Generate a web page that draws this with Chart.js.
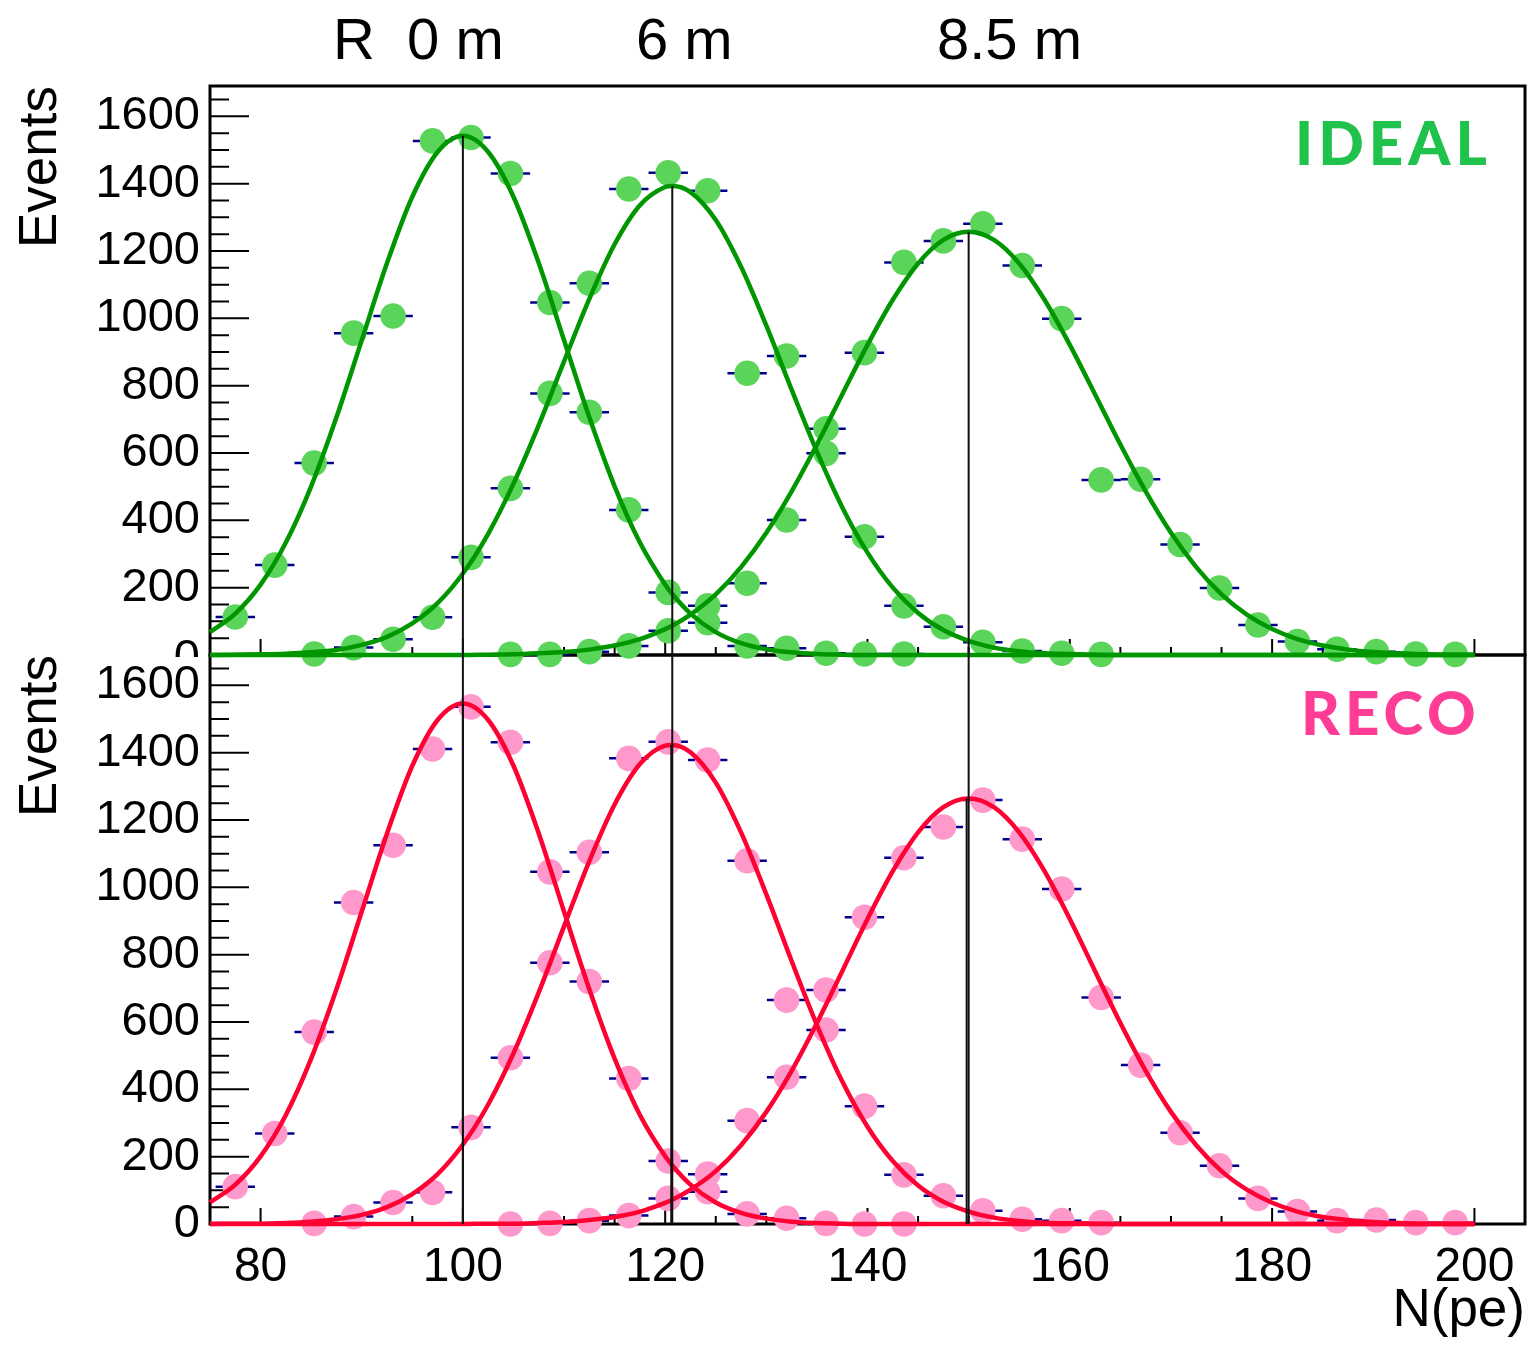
<!DOCTYPE html>
<html>
<head>
<meta charset="utf-8">
<script src="https://cdn.jsdelivr.net/npm/chart.js@4.4.0/dist/chart.umd.min.js"></script>
<style>
  html, body { margin: 0; padding: 0; background: #fff; }
  #wrap { position: relative; width: 1532px; height: 1345px; }
  canvas { position: absolute; left: 0; top: 0; }
  .lbl { position: absolute; font-family: "Liberation Sans", Arial, sans-serif; color: #000; white-space: pre; line-height: 1; }
  .tag { position: absolute; font-family: Lato, sans-serif; font-weight: 900; line-height: 1; white-space: pre; }
</style>
</head>
<body>
<div id="wrap">
  <canvas id="myChart" width="1532" height="1345"></canvas>
  <div class="lbl" style="left:333px; top:10px; font-size:58px">R  0 m</div>
  <div class="lbl" style="left:636px; top:10px; font-size:58px">6 m</div>
  <div class="lbl" style="left:937px; top:10px; font-size:58px">8.5 m</div>
  <div class="lbl" style="left:150px; top:632px; width:50px; height:25px; overflow:hidden; font-size:47px; text-align:right">0</div>
  <div class="tag" style="left:1295px; top:112px; font-size:60px; letter-spacing:5px; color:#1fc24a">IDEAL</div>
  <div class="tag" style="left:1301px; top:682px; font-size:60px; letter-spacing:5px; color:#ff3d96">RECO</div>
</div>
<script>
// bin centres, N(pe)
var binCenters = [77.5, 81.4, 85.3, 89.2, 93.1, 97.0, 100.8, 104.7, 108.6, 112.5, 116.4, 120.3, 124.2, 128.1, 132.0, 135.9,
  139.7, 143.6, 147.5, 151.4, 155.3, 159.2, 163.1, 167.0, 170.9, 174.8, 178.6, 182.5, 186.4, 190.3, 194.2, 198.1];

// IDEAL events per bin (R = 0 m, 6 m, 8.5 m)
var ideal0 = [113, 267, 570, 956, 1007, 1527, 1537, 1430, 1047, 721, 431, 186, 96, 27, 20, 5, 3, 3,
  null, null, null, null, null, null, null, null, null, null, null, null, null, null];
var ideal6 = [null, null, 3, 22, 47, 112, 290, 495, 777, 1104, 1384, 1432, 1379, 837, 888, 599, 351, 146, 84, 38, 12, 5, 2,
  null, null, null, null, null, null, null, null, null];
var ideal85 = [null, null, null, null, null, null, null, 2, 2, 10, 27, 72, 146, 213, 401, 672, 898, 1166, 1230, 1281,
  1157, 999, 520, 522, 328, 199, 89, 40, 17, 10, 3, 2];

// RECO events per bin
var reco0 = [111, 269, 570, 955, 1125, 1411, 1536, 1431, 1046, 720, 432, 187, 96, 30, 17, 2, 0, 0,
  null, null, null, null, null, null, null, null, null, null, null, null, null, null];
var reco6 = [null, null, 2, 22, 64, 94, 287, 494, 776, 1104, 1383, 1432, 1378, 1079, 665, 576, 350, 146, 84, 39, 14, 10, 4,
  null, null, null, null, null, null, null, null, null];
var reco85 = [null, null, null, null, null, null, null, 0, 2, 10, 25, 76, 148, 307, 436, 695, 911, 1088, 1179, 1259,
  1143, 995, 673, 472, 271, 173, 76, 37, 10, 12, 4, 4];

// fitted curves
var fitX = [75, 77.5, 80, 82.5, 85, 87.5, 90, 92.5, 95, 97.5, 100, 102.5, 105, 107.5, 110, 112.5, 115, 117.5, 120, 120.7,
  122.5, 125, 127.5, 130, 132.5, 135, 137.5, 140, 142.5, 145, 147.5, 150, 152.5, 155, 157.5, 160, 162.5, 165, 167.5, 170,
  172.5, 175, 177.5, 180, 182.5, 185, 187.5, 190, 192.5, 195, 197.5, 200];
var idealFit0 = [68, 123, 209, 334, 501, 706, 935, 1164, 1361, 1494, 1542, 1494, 1361, 1164, 935, 706, 501, 334, 209, 181,
  123, 68, 35, 17, 8, 3, 1, 0, 0, 0, 0, 0, 0, 0, 0, 0, 0, 0, 0, 0, 0, 0, 0, 0, 0, 0, 0, 0, 0, 0, 0, 0];
var idealFit6 = [0, 1, 2, 4, 8, 15, 30, 54, 94, 154, 242, 360, 509, 683, 872, 1058, 1220, 1336, 1390, 1393,
  1375, 1292, 1153, 978, 788, 604, 439, 304, 200, 125, 74, 42, 22, 11, 5, 3, 1, 0, 0, 0, 0, 0, 0, 0, 0, 0, 0, 0, 0, 0, 0, 0];
var idealFit85 = [0, 0, 0, 0, 0, 0, 0, 0, 0, 0, 0, 1, 2, 5, 9, 16, 28, 47, 77, 87,
  120, 180, 261, 363, 486, 625, 774, 921, 1055, 1163, 1233, 1257, 1233, 1163, 1055, 921, 774, 625, 486, 363,
  261, 180, 120, 77, 47, 28, 16, 9, 5, 2, 1, 1];
var recoFit0 = [64, 117, 201, 324, 491, 697, 928, 1160, 1361, 1497, 1546, 1497, 1361, 1160, 928, 697, 491, 324, 201, 174,
  117, 64, 33, 16, 7, 3, 1, 0, 0, 0, 0, 0, 0, 0, 0, 0, 0, 0, 0, 0, 0, 0, 0, 0, 0, 0, 0, 0, 0, 0, 0, 0];
var recoFit6 = [0, 1, 1, 3, 7, 14, 27, 50, 89, 148, 236, 355, 507, 688, 884, 1078, 1246, 1366, 1421, 1423,
  1401, 1311, 1163, 979, 781, 591, 424, 289, 187, 114, 66, 37, 19, 9, 4, 2, 1, 0, 0, 0, 0, 0, 0, 0, 0, 0, 0, 0, 0, 0, 0, 0];
var recoFit85 = [0, 0, 0, 0, 0, 0, 0, 0, 0, 0, 0, 1, 1, 3, 6, 12, 21, 37, 63, 72,
  102, 157, 234, 333, 455, 597, 751, 906, 1048, 1163, 1238, 1264, 1238, 1163, 1048, 906, 751, 597, 455, 333,
  234, 157, 102, 63, 37, 21, 12, 6, 3, 1, 1, 0];

// fitted peak positions (vertical markers)
var idealPeakX = [100, 120.7, 150];
var idealPeakY = [1542, 1393, 1257];
var recoPeakX = [100, 120.6, 149.8];
var recoPeakY = [1546, 1423, 1264];

var xTicks = [80, 100, 120, 140, 160, 180, 200];
var yTicks = [0, 200, 400, 600, 800, 1000, 1200, 1400, 1600];
var yMax = 1690;

var FONT = 'Liberation Sans';

function points(xs, ys) {
  return xs.map(function (x, i) { return { x: x, y: ys[i] }; }).filter(function (p) { return p.y !== null; });
}

function panelSets(axis, series, fits, peakX, peakY, dotColor, lineColor) {
  var sets = [];
  series.forEach(function (s) {
    sets.push({ yAxisID: axis, data: points(binCenters, s), pointStyle: 'line', pointRadius: 19.7,
      pointBorderWidth: 2.5, pointBorderColor: '#00008b', order: 4, clip: false });
    sets.push({ yAxisID: axis, data: points(binCenters, s), pointStyle: 'circle', pointRadius: 12.8,
      pointBackgroundColor: dotColor, pointBorderWidth: 0, order: 3, clip: false });
  });
  fits.forEach(function (f) {
    sets.push({ yAxisID: axis, data: points(fitX, f), showLine: true, borderColor: lineColor, borderWidth: 4.5,
      pointRadius: 0, cubicInterpolationMode: 'monotone', order: 2, clip: false });
  });
  peakX.forEach(function (x, i) {
    sets.push({ yAxisID: axis, data: [{ x: x, y: peakY[i] }, { x: x, y: 0 }], showLine: true,
      borderColor: '#111', borderWidth: 2, pointRadius: 0, order: 1, clip: false });
  });
  return sets;
}

var datasets = panelSets('yTop', [ideal0, ideal6, ideal85], [idealFit0, idealFit6, idealFit85],
  idealPeakX, idealPeakY, '#5ad55a', '#009600')
  .concat(panelSets('yBot', [reco0, reco6, reco85], [recoFit0, recoFit6, recoFit85],
    recoPeakX, recoPeakY, '#ff99cc', '#ff0033'));
// markers of the IDEAL peaks carried down through the RECO panel
idealPeakX.forEach(function (x) {
  datasets.push({ yAxisID: 'yBot', data: [{ x: x, y: yMax }, { x: x, y: 0 }], showLine: true,
    borderColor: '#111', borderWidth: 2, pointRadius: 0, order: 1, clip: false });
});

// frame and inward ticks, ROOT style
var frame = {
  id: 'frame',
  beforeDatasetsDraw: function (chart) {
    var ctx = chart.ctx, a = chart.chartArea, xs = chart.scales.x;
    ctx.save();
    ctx.strokeStyle = '#000';
    ['yTop', 'yBot'].forEach(function (id) {
      var ys = chart.scales[id];
      ctx.lineWidth = 3;
      ctx.strokeRect(a.left, ys.top, a.right - a.left, ys.bottom - ys.top);
      ctx.lineWidth = 2;
      ctx.beginPath();
      for (var v = 50; v < yMax; v += 50) {
        var py = ys.getPixelForValue(v);
        var len = v % 200 === 0 ? 39 : 19;
        ctx.moveTo(a.left, py);
        ctx.lineTo(a.left + len, py);
      }
      for (var t = 80; t <= 200; t += 5) {
        var px = xs.getPixelForValue(t);
        var l = t % 20 === 0 ? 16 : 8;
        ctx.moveTo(px, ys.bottom);
        ctx.lineTo(px, ys.bottom - l);
      }
      ctx.stroke();
    });
    ctx.restore();
  }
};

function yAxis(ticks) {
  return {
    type: 'linear', position: 'left', stack: 'panels', stackWeight: 1, min: 0, max: yMax,
    grid: { display: false, drawTicks: false }, border: { display: false },
    afterBuildTicks: function (s) { s.ticks = ticks.map(function (v) { return { value: v }; }); },
    afterFit: function (s) { s.width = 210; },
    ticks: { font: { family: FONT, size: 47 }, color: '#000', padding: 10, autoSkip: false,
      callback: function (v) { return String(v); } },
    title: { display: true, text: 'Events', align: 'end', color: '#000',
      font: { family: FONT, size: 53 }, padding: { top: 10, bottom: 0 } }
  };
}

Chart.defaults.font.family = FONT;

new Chart('myChart', {
  type: 'scatter',
  data: { datasets: datasets },
  options: {
    responsive: false,
    animation: false,
    devicePixelRatio: 1,
    events: [],
    layout: { autoPadding: false, padding: { top: 86, right: 7, left: 0, bottom: 0 } },
    plugins: { legend: { display: false }, tooltip: { enabled: false } },
    scales: {
      x: {
        type: 'linear', position: 'bottom', min: 75, max: 205,
        grid: { display: false, drawTicks: false }, border: { display: false },
        afterBuildTicks: function (s) { s.ticks = xTicks.map(function (v) { return { value: v }; }); },
        afterFit: function (s) { s.height = 121; },
        ticks: { font: { family: FONT, size: 48 }, color: '#000', padding: 15, maxRotation: 0, autoSkip: false,
          callback: function (v) { return String(v); } },
        title: { display: true, text: 'N(pe)', align: 'end', color: '#000',
          font: { family: FONT, size: 53 }, padding: { top: 0, bottom: 2 } }
      },
      // bottom panel first: in a left stack the last scale goes on top
      yBot: yAxis(yTicks),
      yTop: yAxis(yTicks.slice(1))
    }
  },
  plugins: [frame]
});
</script>
</body>
</html>
